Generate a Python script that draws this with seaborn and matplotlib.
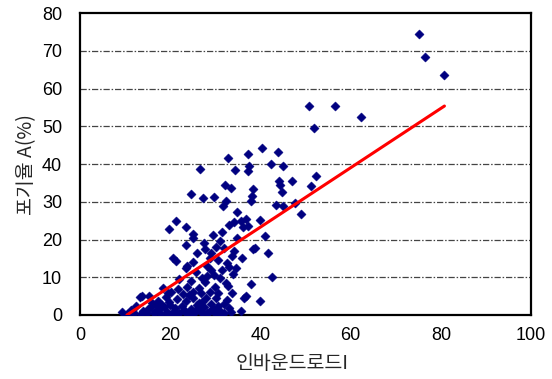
import matplotlib
matplotlib.use("Agg")
import matplotlib.pyplot as plt
import seaborn as sns
import pandas as pd

# inbound load I vs abandonment rate A(%)
load_x = [
    75.1, 76.5, 80.6, 50.7, 56.5, 62.3, 51.9,
    40.4, 43.9, 37.3, 32.7, 42.3, 45.0, 37.5, 26.6, 34.4, 37.3,
    52.4, 44.1, 44.3, 44.7, 47.0, 51.3, 32.2, 33.5, 38.3, 38.2, 38.0,
    24.6, 27.3, 29.6, 32.3, 31.8, 43.4, 45.0, 47.6, 48.9, 34.9, 39.9, 34.1, 35.8, 36.9, 36.2, 37.2,
    19.8, 21.2, 23.5, 25.1, 25.1, 34.7, 41.1, 23.5, 27.8, 30.2, 32.0, 29.0, 34.2, 38.3, 38.9, 41.6,
    36.0, 20.7, 21.3, 25.0, 23.6, 32.5, 33.1, 34.5, 28.1, 31.5, 25.7, 34.0, 42.6, 28.1, 29.8, 31.1,
    32.4, 32.8, 27.6, 23.7, 26.3, 25.1, 38.0, 18.5, 20.2, 13.4, 15.2, 36.9, 36.3, 39.9, 33.6, 30.7,
    30.2, 28.0, 27.0, 31.9, 35.8, 9.3, 12.3, 15.0, 17.0, 20.0,
    10.5, 11.2, 12.0, 13.5, 14.0, 14.8, 15.8, 16.5, 17.5, 18.0, 18.6, 19.2, 19.8, 20.5, 21.0, 21.5,
    22.0, 22.5, 23.0, 23.5, 24.0, 24.5, 25.0, 25.5, 26.0, 26.5, 27.0, 27.5, 28.5, 29.0, 29.5, 30.0,
    30.5, 31.0, 32.0, 33.0, 22.8, 19.0, 17.2, 16.0, 26.8, 24.2, 21.8, 28.8, 30.0, 27.0, 29.0, 24.5,
    22.0, 26.0, 28.8, 30.5, 33.8, 31.0, 27.5, 29.5, 31.5, 33.0, 11.1, 13.7, 18.1, 19.6, 23.7,
    21.5, 23.2, 25.8, 28.2, 31.2, 33.4, 16.8, 19.5, 24.8, 26.4, 29.3, 32.6,
]
abandon_y = [
    74.4, 68.3, 63.7, 55.5, 55.4, 52.5, 49.5,
    44.3, 43.2, 42.7, 41.6, 39.9, 39.6, 39.5, 38.6, 38.5, 38.3,
    36.9, 35.6, 34.5, 32.7, 35.6, 34.3, 34.5, 33.6, 33.3, 31.6, 30.3,
    32.0, 31.1, 31.3, 30.1, 29.0, 29.2, 28.9, 29.6, 26.8, 27.3, 25.1, 24.7, 24.9, 25.5, 23.4, 23.6,
    22.9, 24.9, 23.2, 21.5, 20.3, 20.5, 20.9, 18.6, 17.6, 18.0, 17.7, 16.4, 17.0, 17.5, 17.8, 16.4,
    15.0, 15.2, 14.3, 14.1, 12.5, 13.8, 12.8, 12.5, 13.1, 11.9, 11.5, 10.8, 10.1, 10.2, 10.5, 9.7,
    8.6, 7.7, 8.8, 7.5, 7.2, 6.2, 8.2, 7.2, 6.2, 4.8, 5.0, 4.9, 4.4, 3.8, 5.8, 5.8,
    4.4, 4.5, 3.5, 2.8, 1.0, 0.8, 2.5, 1.6, 2.7, 2.7,
    0.3, 1.2, 0.5, 0.2, 1.0, 0.4, 2.2, 0.6, 1.5, 0.3, 2.0, 0.8, 3.4, 0.4, 1.8, 4.2,
    0.6, 2.4, 1.2, 3.8, 0.3, 1.6, 4.6, 0.8, 2.6, 1.2, 0.4, 2.0, 0.9, 3.0, 1.5, 0.5,
    2.3, 1.0, 0.4, 1.8, 5.5, 4.8, 3.8, 3.2, 5.8, 5.2, 6.8, 6.2, 7.5, 9.8, 11.8, 9.0,
    9.5, 16.5, 15.2, 14.5, 15.6, 19.5, 19.0, 21.2, 22.0, 23.8, 0.9, 4.9, 2.7, 5.8, 13.1,
    0.2, 0.7, 1.4, 0.6, 0.2, 0.8, 1.1, 0.2, 0.5, 3.3, 1.2, 3.9,
]

# fitted regression line end points
fit_x = [10.4, 80.8]
fit_y = [0.0, 55.4]

x_ticks = [0, 20, 40, 60, 80, 100]
y_ticks = [0, 10, 20, 30, 40, 50, 60, 70, 80]
grid_levels = [10, 20, 30, 40, 50, 60, 70]

df = pd.DataFrame({"load": load_x, "abandon": abandon_y})
fit = pd.DataFrame({"load": fit_x, "abandon": fit_y})

sns.set_style("white")
plt.rcParams["font.family"] = ["Liberation Sans", "Noto Sans CJK KR", "DejaVu Sans"]

fig, ax = plt.subplots(figsize=(5.52, 3.79), dpi=100)
fig.subplots_adjust(left=0.145, right=0.962, top=0.965, bottom=0.169)

for g in grid_levels:
    ax.axhline(g, color="#444444", lw=0.9, ls=(0, (5, 1.5, 1.2, 1.5)), zorder=0)

sns.scatterplot(data=df, x="load", y="abandon", marker="D", s=22,
                color="#000080", edgecolor="#000080", linewidth=0.3, ax=ax, zorder=3)
sns.lineplot(data=fit, x="load", y="abandon", color="#ff0000", lw=2.2, ax=ax, zorder=4)

ax.set_xlim(0, 100); ax.set_ylim(0, 80)
ax.set_xticks(x_ticks); ax.set_yticks(y_ticks)
ax.tick_params(direction="in", length=4, width=1, labelsize=13, colors="black")
ax.tick_params(axis="y", pad=13)
ax.tick_params(axis="x", pad=9)
for s in ax.spines.values():
    s.set_color("black"); s.set_linewidth(1.6)

ax.set_xlabel("인바운드로드I", fontsize=14, labelpad=2,
              family=["Noto Sans CJK KR", "DejaVu Sans"])
ax.set_ylabel("포기율 A(%)", fontsize=14, labelpad=3,
              family=["Noto Sans CJK KR", "DejaVu Sans"])
ax.xaxis.set_label_coords(0.47, -0.125)

plt.savefig("out.png", dpi=100)
